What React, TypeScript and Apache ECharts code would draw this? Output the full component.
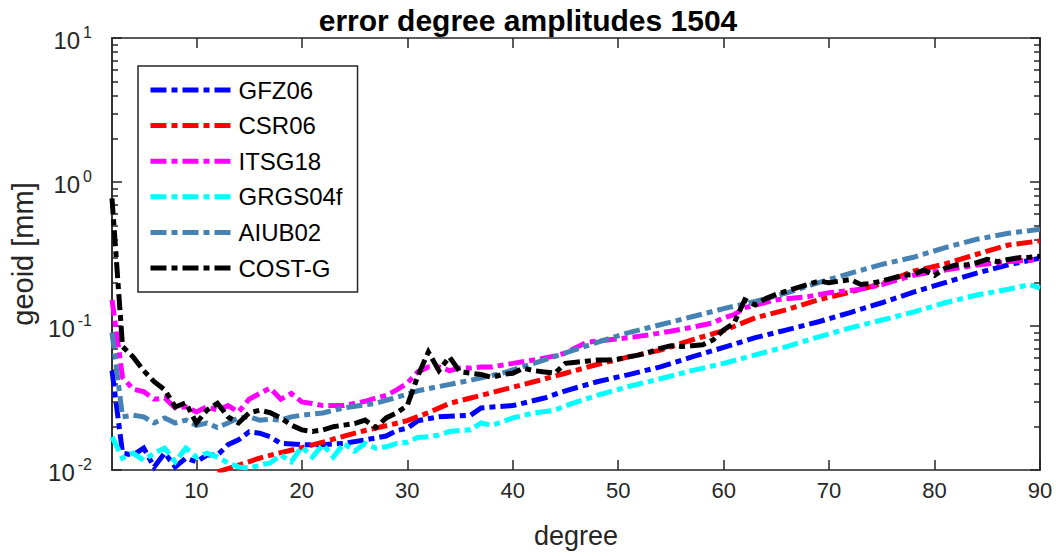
import { useEffect, useRef } from 'react';
import * as echarts from 'echarts';

const seriesNames = ['GFZ06', 'CSR06', 'ITSG18', 'GRGS04f', 'AIUB02', 'COST-G'];
const seriesColors = ['#0000ff', '#ff0000', '#ff00ff', '#00ffff', '#4682b4', '#000000'];

const gfz06 = [
  [2, 0.049], [3, 0.0131], [4, 0.0127], [5, 0.0142], [6, 0.0105], [7, 0.0131], [8, 0.0105],
  [9, 0.0121], [10, 0.0114], [11, 0.0127], [12, 0.0127], [13, 0.015], [14, 0.0162], [15, 0.0184],
  [16, 0.018], [17, 0.017], [18, 0.0153], [20, 0.015], [22, 0.015], [24, 0.0153], [26, 0.0162],
  [28, 0.0172], [29, 0.0188], [30, 0.0195], [31, 0.022], [33, 0.0234], [36, 0.024], [37, 0.027],
  [40, 0.028], [43, 0.0316], [45, 0.0355], [48, 0.041], [51, 0.046], [54, 0.052], [57, 0.061],
  [60, 0.071], [63, 0.083], [66, 0.094], [69, 0.107], [72, 0.124], [75, 0.145], [78, 0.172],
  [81, 0.2], [84, 0.233], [87, 0.266], [90, 0.296],
];

const csr06 = [
  [12, 0.0097], [14, 0.0108], [16, 0.0121], [18, 0.0132], [20, 0.0143], [22, 0.0156], [24, 0.0172],
  [26, 0.0188], [28, 0.0203], [30, 0.022], [32, 0.025], [34, 0.029], [36, 0.0316], [39, 0.036],
  [42, 0.041], [45, 0.047], [48, 0.054], [51, 0.061], [54, 0.068], [57, 0.08], [60, 0.093],
  [63, 0.114], [66, 0.13], [69, 0.152], [72, 0.172], [75, 0.197], [78, 0.24], [81, 0.27],
  [84, 0.315], [87, 0.365], [90, 0.39],
];

const itsg18 = [
  [2, 0.152], [3, 0.044], [4, 0.0364], [5, 0.035], [6, 0.031], [7, 0.0316], [8, 0.027], [9, 0.0275],
  [10, 0.0253], [11, 0.0275], [12, 0.026], [13, 0.028], [14, 0.0253], [15, 0.031], [16, 0.034],
  [17, 0.037], [18, 0.031], [19, 0.034], [20, 0.0297], [21, 0.029], [22, 0.028], [23, 0.028],
  [24, 0.028], [25, 0.029], [26, 0.03], [27, 0.0316], [28, 0.033], [29, 0.036], [30, 0.04],
  [31, 0.048], [32, 0.052], [33, 0.052], [34, 0.049], [35, 0.051], [36, 0.051], [37, 0.052],
  [38, 0.052], [40, 0.055], [42, 0.058], [44, 0.062], [45, 0.065], [47, 0.077], [49, 0.08],
  [51, 0.083], [53, 0.087], [55, 0.092], [57, 0.098], [59, 0.105], [60, 0.114], [61, 0.12],
  [62, 0.134], [63, 0.14], [65, 0.152], [68, 0.16], [70, 0.17], [73, 0.18], [75, 0.194],
  [78, 0.225], [81, 0.245], [84, 0.265], [87, 0.28], [90, 0.29],
];

const grgs04f = [
  [2, 0.017], [3, 0.0121], [4, 0.0131], [5, 0.0117], [6, 0.0131], [7, 0.0142], [8, 0.0114],
  [9, 0.0142], [10, 0.0123], [11, 0.0131], [12, 0.0123], [13, 0.0112], [14, 0.0105], [15, 0.0103],
  [16, 0.0108], [17, 0.0112], [18, 0.0127], [19, 0.0114], [20, 0.0145], [21, 0.0123], [22, 0.015],
  [23, 0.0123], [24, 0.0153], [25, 0.0135], [26, 0.0153], [27, 0.0142], [28, 0.0145], [29, 0.0153],
  [30, 0.0156], [31, 0.0168], [32, 0.017], [33, 0.0175], [34, 0.0185], [35, 0.0188], [36, 0.019],
  [37, 0.0212], [38, 0.0204], [40, 0.023], [42, 0.0249], [44, 0.026], [45, 0.028], [48, 0.033],
  [51, 0.038], [54, 0.043], [57, 0.049], [60, 0.055], [63, 0.063], [66, 0.072], [69, 0.084],
  [72, 0.097], [75, 0.11], [78, 0.125], [81, 0.145], [84, 0.164], [87, 0.18], [89, 0.194],
  [90, 0.183],
];

const aiub02 = [
  [2, 0.09], [3, 0.0234], [4, 0.024], [5, 0.0234], [6, 0.0212], [7, 0.023], [8, 0.0212], [9, 0.0222],
  [10, 0.0204], [11, 0.0212], [12, 0.0197], [13, 0.0212], [14, 0.023], [15, 0.0234], [16, 0.0222],
  [17, 0.0225], [18, 0.0222], [19, 0.0234], [20, 0.024], [22, 0.0249], [24, 0.027], [27, 0.029],
  [29, 0.032], [31, 0.0355], [33, 0.038], [36, 0.042], [39, 0.047], [42, 0.055], [45, 0.065],
  [48, 0.077], [51, 0.09], [54, 0.102], [57, 0.116], [60, 0.132], [63, 0.148], [66, 0.17],
  [69, 0.2], [72, 0.232], [75, 0.268], [78, 0.3], [81, 0.35], [84, 0.4], [87, 0.44], [90, 0.47],
];

const costG = [
  [2, 0.77], [3, 0.072], [4, 0.061], [5, 0.049], [6, 0.041], [7, 0.036], [8, 0.0274], [9, 0.0293],
  [10, 0.0212], [11, 0.026], [12, 0.029], [13, 0.0234], [14, 0.0212], [15, 0.0249], [16, 0.026],
  [17, 0.025], [18, 0.023], [19, 0.0205], [20, 0.019], [21, 0.0185], [22, 0.019], [23, 0.02],
  [24, 0.0205], [25, 0.021], [26, 0.0222], [27, 0.0197], [28, 0.023], [29, 0.025], [30, 0.028],
  [31, 0.045], [32, 0.066], [33, 0.049], [34, 0.061], [35, 0.048], [36, 0.047], [37, 0.046],
  [38, 0.044], [39, 0.046], [40, 0.047], [41, 0.051], [42, 0.049], [43, 0.048], [44, 0.047],
  [45, 0.055], [46, 0.056], [47, 0.057], [48, 0.058], [49, 0.058], [50, 0.059], [51, 0.061],
  [52, 0.063], [53, 0.066], [54, 0.07], [55, 0.073], [56, 0.072], [57, 0.073], [58, 0.074],
  [59, 0.08], [60, 0.094], [61, 0.105], [62, 0.152], [63, 0.14], [64, 0.155], [65, 0.166],
  [66, 0.175], [67, 0.185], [68, 0.194], [69, 0.205], [70, 0.2], [71, 0.205], [72, 0.21],
  [73, 0.194], [74, 0.198], [75, 0.205], [76, 0.215], [77, 0.225], [78, 0.228], [79, 0.245],
  [80, 0.225], [81, 0.252], [82, 0.265], [83, 0.265], [84, 0.275], [85, 0.29], [86, 0.28],
  [87, 0.29], [88, 0.298], [89, 0.3], [90, 0.305],
];

const seriesData = [gfz06, csr06, itsg18, grgs04f, aiub02, costG];

const xTickValues = [10, 20, 30, 40, 50, 60, 70, 80, 90];
const yMajorTicks = [0.01, 0.1, 1, 10];
const yMinorTicks = [
  0.02, 0.03, 0.04, 0.05, 0.06, 0.07, 0.08, 0.09,
  0.2, 0.3, 0.4, 0.5, 0.6, 0.7, 0.8, 0.9,
  2, 3, 4, 5, 6, 7, 8, 9,
];

const titleText = 'error degree amplitudes 1504';
const xName = 'degree';
const yName = 'geoid [mm]';

const FONT = '"Liberation Sans", Arial, Helvetica, sans-serif';
const AX = '#262626';
const LINE_W = 5;
const DASH = [16, 5, 6, 5];

export default function App() {
  const ref = useRef<HTMLDivElement>(null);
  useEffect(() => {
    if (!ref.current) return;
    const chart = echarts.init(ref.current, null, { renderer: 'svg' });
    const grid = { left: 112, right: 16, top: 38, bottom: 86, containLabel: false };
    const logAxisBase = {
      type: 'log' as const,
      logBase: 10,
      min: 0.01,
      max: 10,
      gridIndex: 0,
      splitLine: { show: false },
      axisLine: { show: true, lineStyle: { color: AX, width: 1.5 } },
    };
    const option: any = {
      animation: false,
      backgroundColor: '#ffffff',
      textStyle: { fontFamily: FONT },
      title: {
        text: titleText,
        left: 'center',
        top: 0,
        textStyle: { fontFamily: FONT, fontSize: 30, fontWeight: 'bold', color: '#000' },
      },
      grid,
      legend: {
        orient: 'vertical',
        left: 138,
        top: 66,
        data: seriesNames,
        itemWidth: 83,
        itemHeight: 20,
        itemGap: 11.6,
        padding: [12, 15, 12, 10],
        borderColor: AX,
        borderWidth: 1.5,
        backgroundColor: '#fff',
        itemStyle: { opacity: 0 },
        lineStyle: { width: LINE_W, type: DASH, cap: 'butt' },
        textStyle: { fontFamily: FONT, fontSize: 24, color: '#000' },
      },
      xAxis: [
        {
          type: 'value',
          min: 2,
          max: 90,
          position: 'bottom',
          name: xName,
          nameLocation: 'middle',
          nameGap: 52,
          nameTextStyle: { fontFamily: FONT, fontSize: 27, color: AX },
          splitLine: { show: false },
          axisLine: { show: true, onZero: false, lineStyle: { color: AX, width: 1.5 } },
          axisTick: { show: true, inside: true, length: 10, customValues: xTickValues, lineStyle: { color: AX, width: 1.5 } },
          axisLabel: { show: true, customValues: xTickValues, margin: 9, fontFamily: FONT, fontSize: 22, color: AX },
        },
        {
          type: 'value',
          min: 2,
          max: 90,
          position: 'top',
          splitLine: { show: false },
          axisLine: { show: true, onZero: false, lineStyle: { color: AX, width: 1.5 } },
          axisTick: { show: true, inside: true, length: 10, customValues: xTickValues, lineStyle: { color: AX, width: 1.5 } },
          axisLabel: { show: false },
        },
      ],
      yAxis: [
        {
          ...logAxisBase,
          position: 'left',
          name: yName,
          nameLocation: 'middle',
          nameGap: 70,
          nameTextStyle: { fontFamily: FONT, fontSize: 29, color: AX },
          axisTick: { show: true, inside: true, length: 10, customValues: yMajorTicks, lineStyle: { color: AX, width: 1.5 } },
          axisLabel: {
            show: true,
            customValues: yMajorTicks,
            margin: 20,
            formatter: (v: number) => `{b|10}{s|${Math.round(Math.log10(v))}}`,
            rich: {
              b: { fontFamily: FONT, fontSize: 24, color: AX, lineHeight: 28, verticalAlign: 'bottom' },
              s: { fontFamily: FONT, fontSize: 16, color: AX, lineHeight: 18, verticalAlign: 'top', padding: [0, 0, 0, 3] },
            },
          },
        },
        {
          ...logAxisBase,
          position: 'left',
          axisTick: { show: true, inside: true, length: 6, customValues: yMinorTicks, lineStyle: { color: AX, width: 1.5 } },
          axisLabel: { show: false },
        },
        {
          ...logAxisBase,
          position: 'right',
          axisTick: { show: true, inside: true, length: 10, customValues: yMajorTicks, lineStyle: { color: AX, width: 1.5 } },
          axisLabel: { show: false },
        },
        {
          ...logAxisBase,
          position: 'right',
          axisTick: { show: true, inside: true, length: 6, customValues: yMinorTicks, lineStyle: { color: AX, width: 1.5 } },
          axisLabel: { show: false },
        },
      ],
      series: seriesNames.map((name, i) => ({
        name,
        type: 'line',
        xAxisIndex: 0,
        yAxisIndex: 0,
        data: seriesData[i],
        symbol: 'none',
        clip: true,
        emphasis: { disabled: true },
        itemStyle: { color: seriesColors[i] },
        lineStyle: { color: seriesColors[i], width: LINE_W, type: DASH, cap: 'butt', join: 'miter' },
        z: 2 + i,
      })),
    };
    chart.setOption(option);
    return () => chart.dispose();
  }, []);
  return (
    <div
      ref={ref}
      style={{ position: 'fixed', left: 0, top: 0, width: 1056, height: 556, background: '#fff' }}
    />
  );
}
